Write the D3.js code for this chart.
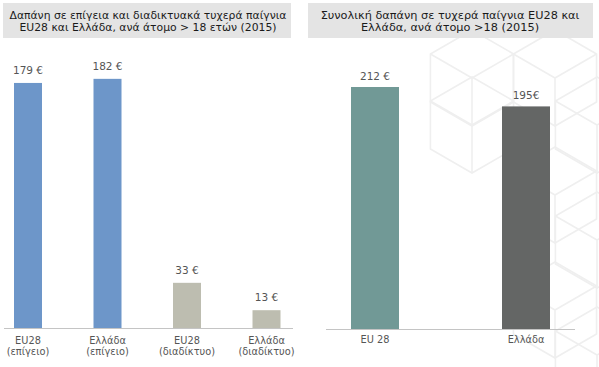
<!DOCTYPE html>
<html><head><meta charset="utf-8">
<script src="https://cdn.jsdelivr.net/npm/d3@7"></script>
<style>
html,body{margin:0;padding:0;background:#fff;}
svg{display:block;font-family:"DejaVu Sans",sans-serif;}
</style></head>
<body>
<svg id="chart" width="599" height="367"></svg>
<script>
// ---- data ----
const leftTitle = ["Δαπάνη σε επίγεια και διαδικτυακά τυχερά παίγνια", "EU28 και Ελλάδα, ανά άτομο > 18 ετών (2015)"];
const leftCats = ["EU28 (επίγειο)", "Ελλάδα (επίγειο)", "EU28 (διαδίκτυο)", "Ελλάδα (διαδίκτυο)"];
const leftCatLines = [["EU28", "(επίγειο)"], ["Ελλάδα", "(επίγειο)"], ["EU28", "(διαδίκτυο)"], ["Ελλάδα", "(διαδίκτυο)"]];
const leftValues = [179, 182, 33, 13];
const leftLabels = ["179 €", "182 €", "33 €", "13 €"];
const leftColors = ["#6d96c9", "#6d96c9", "#bdbdb0", "#bdbdb0"];

const rightTitle = ["Συνολική δαπάνη σε τυχερά παίγνια EU28 και", "Ελλάδα, ανά άτομο >18 (2015)"];
const rightCats = ["EU 28", "Ελλάδα"];
const rightValues = [212, 195];
const rightLabels = ["212 €", "195€"];
const rightColors = ["#719996", "#646665"];

const svg = d3.select("#chart");

// ---- faint cube background pattern (decoration) ----
const cubeCenters = [[472,78],[472,125],[555,78],[597,125],[555,195],[597,240],[555,310],[597,355]];
const bg = svg.append("g").attr("fill","none").attr("stroke","#efefef").attr("stroke-width",1.6);
const R = 48;
cubeCenters.forEach(([cx,cy]) => {
  const pts = d3.range(6).map(i => {
    const a = Math.PI/180*(90 + 60*i);
    return [cx + R*Math.cos(a), cy - R*Math.sin(a)];
  });
  bg.append("path").attr("d", d3.line()(pts) + "Z");
  [pts[1], pts[5], pts[3]].forEach(p => {
    bg.append("line").attr("x1",cx).attr("y1",cy).attr("x2",p[0]).attr("y2",p[1]);
  });
});

// ---- left panel ----
const L = svg.append("g");
L.append("rect").attr("x",3).attr("y",3).attr("width",288).attr("height",35).attr("fill","#e4e4e4");
L.selectAll("text.title").data(leftTitle).join("text")
  .attr("x",148).attr("y",(d,i)=>19+i*11.5).attr("text-anchor","middle")
  .attr("font-size",10.8).attr("fill","#1a1a1a").text(d=>d);

const xL = d3.scalePoint().domain(leftCats).range([28, 266.5]);
const yL = d3.scaleLinear().domain([0,200]).range([328, 328-273.8]);
const bwL = 28;

L.selectAll("rect.bar").data(leftValues).join("rect")
  .attr("x",(d,i)=>xL(leftCats[i])-bwL/2).attr("width",bwL)
  .attr("y",d=>yL(d)).attr("height",d=>yL(0)-yL(d))
  .attr("fill",(d,i)=>leftColors[i]);
L.selectAll("text.val").data(leftValues).join("text")
  .attr("x",(d,i)=>xL(leftCats[i])).attr("y",d=>yL(d)-9)
  .attr("text-anchor","middle").attr("font-size",10.5).attr("fill","#555")
  .text((d,i)=>leftLabels[i]);
L.append("line").attr("x1",4).attr("x2",293).attr("y1",yL(0)+0.5).attr("y2",yL(0)+0.5)
  .attr("stroke","#c4c4c4").attr("stroke-width",1.2);
leftCatLines.forEach((lines,i)=>{
  lines.forEach((t,j)=>{
    L.append("text").attr("x",xL(leftCats[i])).attr("y",yL(0)+16+j*11)
      .attr("text-anchor","middle").attr("font-size",9.8).attr("fill","#555").text(t);
  });
});

// ---- right panel ----
const Rg = svg.append("g");
Rg.append("rect").attr("x",308).attr("y",3).attr("width",285).attr("height",35).attr("fill","#e4e4e4");
Rg.selectAll("text.title").data(rightTitle).join("text")
  .attr("x",450).attr("y",(d,i)=>19+i*11.5).attr("text-anchor","middle")
  .attr("font-size",11.3).attr("fill","#1a1a1a").text(d=>d);

const xR = d3.scalePoint().domain(rightCats).range([375, 526]);
const yR = d3.scaleLinear().domain([0,212]).range([329, 87]);
const bwR = 48;
Rg.selectAll("rect.bar").data(rightValues).join("rect")
  .attr("x",(d,i)=>xR(rightCats[i])-bwR/2).attr("width",bwR)
  .attr("y",d=>yR(d)).attr("height",d=>yR(0)-yR(d))
  .attr("fill",(d,i)=>rightColors[i]);
Rg.selectAll("text.val").data(rightValues).join("text")
  .attr("x",(d,i)=>xR(rightCats[i])).attr("y",d=>yR(d)-7)
  .attr("text-anchor","middle").attr("font-size",10.5).attr("fill","#555")
  .text((d,i)=>rightLabels[i]);
Rg.append("line").attr("x1",326).attr("x2",575).attr("y1",yR(0)+0.5).attr("y2",yR(0)+0.5)
  .attr("stroke","#c4c4c4").attr("stroke-width",1.2);
Rg.selectAll("text.cat").data(rightCats).join("text")
  .attr("x",d=>xR(d)).attr("y",yR(0)+14).attr("text-anchor","middle")
  .attr("font-size",9.8).attr("fill","#555").text(d=>d);
</script>
</body></html>
